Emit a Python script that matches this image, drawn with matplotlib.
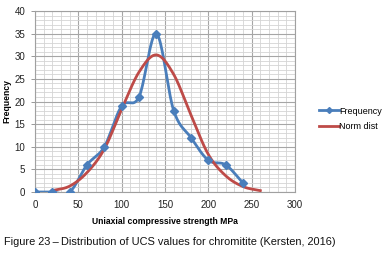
import numpy as np
import matplotlib
matplotlib.use('Agg')
import matplotlib.pyplot as plt
from matplotlib.lines import Line2D

plt.rcParams['font.family'] = ['Liberation Sans', 'DejaVu Sans']

# data
ucs = [0, 20, 40, 60, 80, 100, 120, 140, 160, 180, 200, 220, 240]
freq = [0, 0, 0, 6, 10, 19, 21, 35, 18, 12, 7, 6, 2]

norm_x = [20, 40, 60, 80, 100, 120, 140, 160, 180, 200, 220, 240, 260]
norm_y = [0.3, 1.3, 4.3, 9.5, 18.3, 26.5, 30.3, 26.0, 17.0, 8.3, 3.6, 1.2, 0.3]

xticks = [0, 50, 100, 150, 200, 250, 300]
yticks = [0, 5, 10, 15, 20, 25, 30, 35, 40]

blue = '#4a7ebb'
red = '#be4b48'


def smooth(x, y, n=20):
    # Excel-like smoothed line (Catmull-Rom through the points)
    x = np.asarray(x, float)
    y = np.asarray(y, float)
    px = np.concatenate([[2*x[0]-x[1]], x, [2*x[-1]-x[-2]]])
    py = np.concatenate([[2*y[0]-y[1]], y, [2*y[-1]-y[-2]]])
    ox, oy = [], []
    t = np.linspace(0, 1, n, endpoint=False)
    for i in range(1, len(px) - 2):
        for p, o in ((px, ox), (py, oy)):
            p0, p1, p2, p3 = p[i-1], p[i], p[i+1], p[i+2]
            o.extend(0.5*((2*p1) + (-p0+p2)*t + (2*p0-5*p1+4*p2-p3)*t**2
                          + (-p0+3*p1-3*p2+p3)*t**3))
    ox.append(x[-1])
    oy.append(y[-1])
    return np.array(ox), np.array(oy)


fig = plt.figure(figsize=(3.87, 2.59), dpi=100)
ax = fig.add_axes([35/387, 1-192/259, 260/387, 181/259])

sx, sy = smooth(ucs, freq)
ax.plot(sx, sy, color=blue, lw=2, zorder=3)
ax.plot(ucs, freq, ls='none', marker='D', ms=3.6, color=blue, zorder=4)
nx, ny = smooth(norm_x, norm_y)
ax.plot(nx, ny, color=red, lw=2, zorder=3)

ax.set_xlim(0, 300)
ax.set_ylim(0, 40)
ax.set_xticks(xticks)
ax.set_yticks(yticks)
ax.set_xticks(np.arange(0, 301, 10), minor=True)
ax.set_yticks(np.arange(0, 41, 1), minor=True)
ax.grid(which='major', color='#a6a6a6', lw=0.8)
ax.grid(which='minor', color='#d4d4d4', lw=0.6)
ax.set_axisbelow(True)
ax.tick_params(which='minor', length=0)
ax.tick_params(axis='x', which='major', length=0, pad=6, labelsize=7, colors='#222222')
ax.tick_params(axis='y', which='major', length=3, width=0.6, color='#888888',
               pad=4, labelsize=7, labelcolor='#222222')
for s in ax.spines.values():
    s.set_color('#a0a0a0')
    s.set_linewidth(0.8)

ax.set_xlabel('Uniaxial compressive strength MPa', fontsize=6.2, fontweight='bold',
              labelpad=5)
ax.set_ylabel('Frequency', fontsize=6.2, fontweight='bold', labelpad=2)

handles = [Line2D([], [], color=blue, lw=2, marker='D', ms=3),
           Line2D([], [], color=red, lw=2)]
fig.legend(handles, ['Frequency', 'Norm dist'], loc='center left',
           bbox_to_anchor=(311/387, 1-119/259), frameon=False, fontsize=6.5,
           handlelength=2.2, handletextpad=0.05, labelspacing=0.75)

fig.text(4/387, 1-242/259, 'Figure 23\u2009\u2013\u2009Distribution of UCS values for chromitite (Kersten, 2016)',
         fontsize=7.9, va='center', ha='left', color='#111111')

fig.savefig('out.png', dpi=100)
